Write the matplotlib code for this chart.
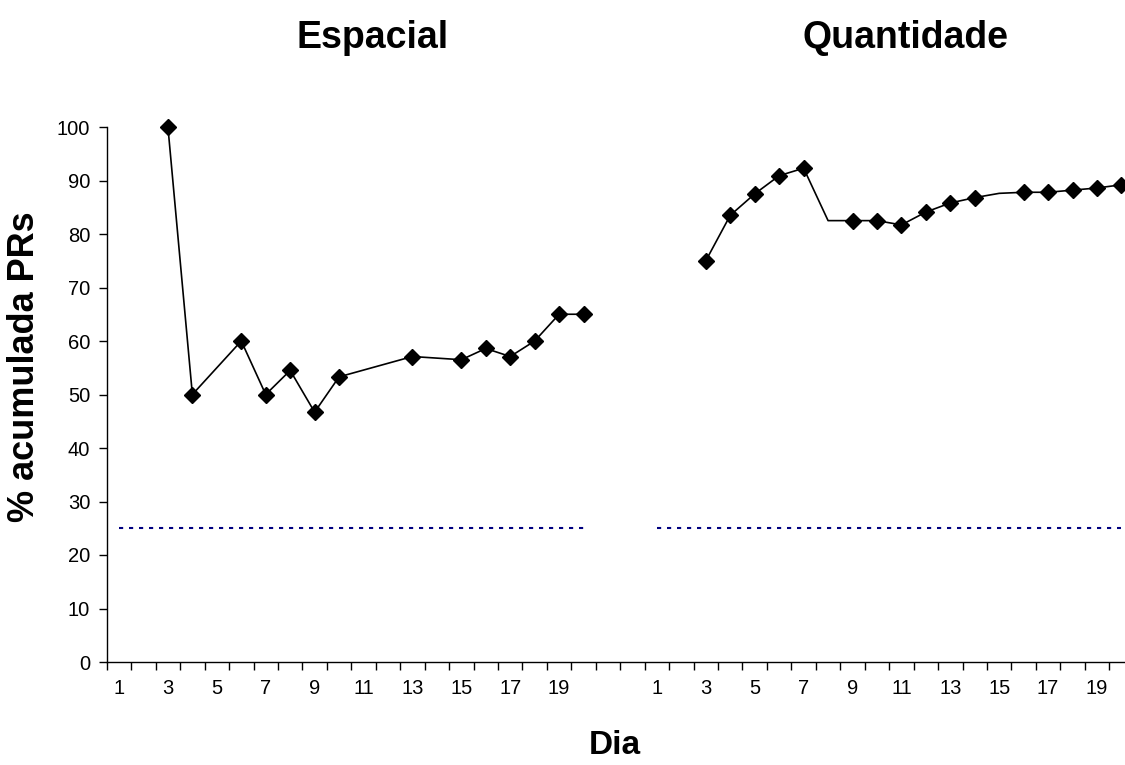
import matplotlib.pyplot as plt
import numpy as np

plt.rcParams['font.family'] = ['Liberation Sans', 'DejaVu Sans']

days = np.arange(1, 21)

esp_days = np.array([3, 4, 6, 7, 8, 9, 10, 13, 15, 16, 17, 18, 19, 20])
esp_vals = np.array([100, 50, 60, 50, 54.5, 46.7, 53.3, 57.1, 56.5, 58.6, 57.1, 60, 65, 65])

qua_days = np.arange(3, 21)
qua_vals = np.array([75, 83.5, 87.5, 90.9, 92.3, 82.5, 82.5, 82.5, 81.7, 84.1,
                     85.8, 86.8, 87.6, 87.8, 87.8, 88.2, 88.6, 89.2])
qua_no_marker = [8, 15]

chance = 25
offset = 22  # second panel starts after two empty categories

fig = plt.figure(figsize=(11.25, 7.65), dpi=100)
# axis runs a bit past the right edge of the picture, as in the original
ax = fig.add_axes([106.8 / 1125, 103 / 765, 42 * 24.45 / 1125, 535 / 765])

# chance level lines
ax.plot(days, np.full(days.shape, chance), color='#000080', linewidth=1.5,
        linestyle=(0, (2, 2.8)))
ax.plot(days + offset, np.full(days.shape, chance), color='#000080', linewidth=1.5,
        linestyle=(0, (2, 2.8)))

ax.plot(esp_days, esp_vals, color='black', linewidth=1.2, marker='D',
        markersize=8, markerfacecolor='black', markeredgecolor='black', clip_on=False)

qx = qua_days + offset
ax.plot(qx, qua_vals, color='black', linewidth=1.2)
keep = ~np.isin(qua_days, qua_no_marker)
ax.plot(qx[keep], qua_vals[keep], linestyle='none', marker='D', markersize=8,
        color='black', clip_on=False)

ax.set_xlim(0.5, 42.5)
ax.set_ylim(0, 100)
ax.set_yticks(np.arange(0, 101, 10))
ax.tick_params(axis='y', direction='out', length=6, width=1, labelsize=14.5, pad=6)

ax.set_xticks(np.arange(0.5, 43, 1))
ax.set_xticklabels([])
ax.tick_params(axis='x', which='major', direction='out', length=6, width=1)
odd = np.arange(1, 21, 2)
ax.set_xticks(np.concatenate([odd, odd + offset]), minor=True)
ax.set_xticklabels([str(d) for d in odd] * 2, minor=True)
ax.tick_params(axis='x', which='minor', length=0, labelsize=14.5, pad=12)

for s in ['top', 'right']:
    ax.spines[s].set_visible(False)
for s in ['left', 'bottom']:
    ax.spines[s].set_linewidth(1)

fig.text(373 / 1125, 1 - 38 / 765, 'Espacial', fontsize=27, fontweight='bold',
         ha='center', va='center')
fig.text(905 / 1125, 1 - 38 / 765, 'Quantidade', fontsize=27, fontweight='bold',
         ha='center', va='center')
fig.text(25 / 1125, 1 - 367 / 765, '% acumulada PRs', fontsize=26, fontweight='bold',
         rotation=90, ha='center', va='center')
fig.text(615 / 1125, 1 - 745 / 765, 'Dia', fontsize=24, fontweight='bold',
         ha='center', va='center')

fig.savefig('out.png', dpi=100)
